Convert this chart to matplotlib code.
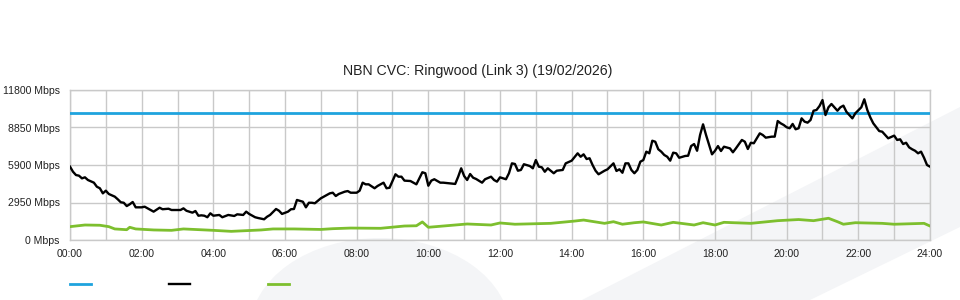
import numpy as np
import matplotlib
matplotlib.use("Agg")
import matplotlib.pyplot as plt
from matplotlib.patches import Polygon, Ellipse

plt.rcParams['font.family'] = ['Liberation Sans', 'DejaVu Sans']

# data (minutes after midnight, Mbps)
capacity_mbps = 10000

traffic_min = [0, 5, 10, 15, 20, 25, 30, 40, 45, 50, 55, 60, 65, 75, 80, 85, 90, 95, 100, 105,
               110, 120, 125, 130, 140, 150, 155, 165, 170, 185, 190, 195, 205, 210, 215, 220, 225, 230, 235, 240,
               250, 255, 265, 275, 280, 290, 295, 300, 310, 315, 325, 330, 335, 345, 350, 355, 365, 370, 375, 380,
               390, 395, 400, 405, 410, 420, 425, 435, 440, 445, 450, 460, 465, 470, 480, 485, 490, 495, 500, 510,
               515, 525, 530, 535, 545, 550, 555, 560, 570, 580, 585, 590, 595, 600, 605, 610, 620, 625, 635, 645,
               650, 655, 660, 665, 670, 675, 680, 690, 695, 705, 710, 715, 720, 730, 735, 740, 745, 750, 755, 760,
               770, 775, 780, 785, 790, 795, 800, 810, 815, 825, 830, 840, 850, 855, 860, 865, 870, 875, 880, 885,
               895, 900, 910, 915, 920, 925, 930, 935, 940, 945, 950, 955, 960, 965, 970, 975, 980, 985, 990, 995,
               1000, 1005, 1010, 1015, 1020, 1030, 1035, 1040, 1045, 1050, 1055, 1060, 1065, 1075, 1080, 1085, 1090, 1095, 1105, 1110,
               1115, 1125, 1130, 1135, 1140, 1145, 1155, 1160, 1165, 1175, 1180, 1185, 1190, 1195, 1200, 1205, 1210, 1215, 1220, 1225,
               1230, 1235, 1240, 1245, 1250, 1255, 1260, 1265, 1270, 1275, 1280, 1285, 1290, 1295, 1300, 1310, 1315, 1325, 1330, 1335,
               1340, 1345, 1350, 1355, 1360, 1365, 1370, 1380, 1385, 1390, 1395, 1400, 1405, 1410, 1415, 1420, 1425, 1430, 1435, 1440]
traffic_mbps = [5770, 5370, 5110, 5060, 4850, 4930, 4720, 4510, 4190, 4070, 3670, 3880, 3620, 3410, 3200, 2970, 2930, 2670, 2810, 2990,
                2570, 2570, 2620, 2490, 2230, 2540, 2420, 2460, 2360, 2360, 2490, 2300, 2150, 2280, 1910, 1940, 1910, 1790, 2100, 1910,
                1970, 1790, 1970, 1890, 2020, 1970, 2230, 2050, 1790, 1730, 1630, 1830, 1970, 2440, 2300, 2050, 2230, 2420, 2440, 3150,
                3010, 2570, 2930, 2930, 2890, 3280, 3410, 3670, 3720, 3460, 3620, 3800, 3850, 3720, 3720, 3880, 4510, 4380, 4380, 4070,
                4250, 4510, 4070, 4110, 5170, 4980, 4980, 4670, 4640, 4380, 4850, 5330, 5250, 4270, 4670, 4780, 4510, 4510, 4460, 4410,
                4980, 5640, 5030, 4720, 5190, 4900, 4800, 4510, 4780, 4980, 4720, 4590, 4930, 4780, 5250, 6030, 5980, 5450, 5510, 5960,
                5820, 5640, 6290, 5770, 5720, 5370, 5640, 5250, 5450, 5510, 6030, 6240, 6820, 6550, 6740, 6370, 6430, 5900, 5450, 5170,
                5450, 5560, 6030, 5430, 5560, 5290, 6030, 6030, 5510, 5250, 5510, 6160, 6290, 6950, 6820, 7810, 7730, 7140, 6950, 6690,
                6550, 6240, 6870, 6820, 6470, 6610, 6630, 7390, 7550, 7020, 8260, 9100, 8260, 6740, 7020, 7390, 7000, 7340, 7210, 6900,
                7210, 7870, 7730, 7160, 7650, 7610, 8390, 8260, 8050, 8130, 8130, 9360, 9180, 9050, 8870, 8790, 9130, 8710, 8790, 9570,
                9310, 9230, 9440, 10170, 10230, 10540, 11010, 9830, 10440, 10700, 10440, 10170, 10440, 10570, 10090, 9570, 9970, 10440, 11070, 10230,
                9650, 9180, 8870, 8570, 8520, 8260, 8000, 8210, 7870, 7920, 7550, 7650, 7290, 7140, 7020, 6820, 6950, 6470, 5900, 5770]

upload_min = [0, 25, 50, 65, 75, 95, 100, 110, 140, 170, 190, 240, 270, 320, 340, 375, 420, 440, 470, 520,
              560, 580, 590, 600, 645, 665, 705, 720, 745, 805, 845, 860, 895, 910, 925, 945, 960, 990, 1010, 1045,
              1060, 1080, 1095, 1140, 1185, 1220, 1245, 1270, 1285, 1295, 1315, 1360, 1380, 1430, 1440]
upload_mbps = [1050, 1180, 1160, 1050, 870, 810, 1000, 870, 790, 760, 870, 760, 680, 790, 870, 870, 830, 890, 940, 920,
               1100, 1120, 1420, 1000, 1180, 1260, 1180, 1340, 1240, 1310, 1490, 1570, 1310, 1440, 1240, 1360, 1420, 1180, 1390, 1180,
               1360, 1180, 1390, 1310, 1520, 1610, 1520, 1710, 1440, 1240, 1360, 1310, 1240, 1310, 1100]

y_ticks = [0, 2950, 5900, 8850, 11800]

W, H = 960, 300
fig = plt.figure(figsize=(9.6, 3.0), dpi=100)

# faint background swooshes, behind the axes
bg = '#f4f5f7'
fig.patches.append(Ellipse((380 / W, 1 - 330 / H), 260 / W, 184 / H,
                           transform=fig.transFigure, facecolor=bg, edgecolor='none', zorder=-5))
fig.patches.append(Polygon([(582 / W, 0), (1, 1 - 107 / H), (1, 1 - 227 / H), (810 / W, 0)],
                           closed=True, transform=fig.transFigure, facecolor=bg, edgecolor='none', zorder=-5))

ax = fig.add_axes([70 / W, 0.2, 860 / W, 0.5])
ax.set_facecolor('none')

t_black = np.array(traffic_min) / 60.0
t_green = np.array(upload_min) / 60.0

l1 = ax.axhline(capacity_mbps, color='#1ea3de', lw=2.0, zorder=3)
l2, = ax.plot(t_black, traffic_mbps, color='#000000', lw=1.7, zorder=4)
l3, = ax.plot(t_green, upload_mbps, color='#7dbf2e', lw=2.0, zorder=3)

ax.set_xlim(0, 24)
ax.set_ylim(0, 11800)
ax.set_xticks(range(0, 25, 2))
ax.set_xticklabels(['%02d:00' % h for h in range(0, 25, 2)])
ax.set_xticks(range(0, 25), minor=True)
ax.set_yticks(y_ticks)
ax.set_yticklabels(['%d Mbps' % v for v in y_ticks])
ax.grid(True, which='both', axis='x', color='#c9c9c9', lw=1.0, zorder=1)
ax.grid(True, which='major', axis='y', color='#c9c9c9', lw=1.0, zorder=1)
for s in ax.spines.values():
    s.set_color('#c9c9c9')
    s.set_linewidth(1.0)
ax.tick_params(axis='both', which='both', length=0, labelsize=7.6, colors='#222222')
ax.tick_params(axis='y', pad=7.5)
ax.tick_params(axis='x', pad=6.5)

fig.text(478 / W, 1 - 71 / H, 'NBN CVC: Ringwood (Link 3) (19/02/2026)',
         fontsize=10.2, color='#222222', ha='center', va='center')

fig.legend([l1, l2, l3], ['', '', ''], loc='center left', ncol=3,
           bbox_to_anchor=(70 / W, 1 - 285 / H), bbox_transform=fig.transFigure,
           frameon=False, borderpad=0, borderaxespad=0, fontsize=8,
           handlelength=1.9, handletextpad=0.5, columnspacing=6.5)

fig.savefig('out.png', dpi=100)
